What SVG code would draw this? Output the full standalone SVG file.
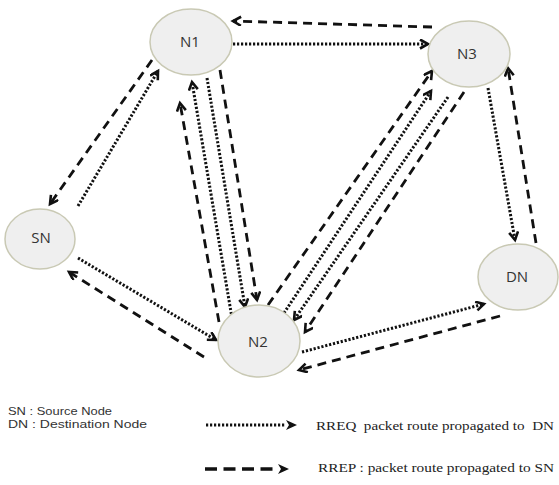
<svg xmlns="http://www.w3.org/2000/svg" width="559" height="485" viewBox="0 0 559 485">
<style>
.node{fill:#efefef;stroke:#c9c9b4;stroke-width:1.5}
.lbl{font-family:"Open Sans","Liberation Sans",sans-serif;font-size:15px;fill:#333;text-anchor:middle}
.dot{fill:none;stroke:#111;stroke-width:3;stroke-dasharray:2.2 1.8}
.dash{fill:none;stroke:#111;stroke-width:2.8;stroke-dasharray:9 6}
.leg{font-family:"Liberation Sans",sans-serif;font-size:11.5px;fill:#333}
.legs{font-family:"Liberation Serif",serif;font-size:12px;fill:#222;white-space:pre}
</style>
<defs>
<marker id="ah" markerUnits="userSpaceOnUse" markerWidth="12" markerHeight="12" refX="9" refY="5" orient="auto">
<path d="M1,0.5 L9,5 L1,9.5" fill="none" stroke="#111" stroke-width="2.6"/>
</marker>
<marker id="ahf" markerUnits="userSpaceOnUse" markerWidth="16" markerHeight="12" refX="0" refY="5" orient="auto">
<path d="M0,0 L11,5 L0,10 L3,5 Z" fill="#111"/>
</marker>
</defs>
<g id="connectors">
<!-- SN - N1 -->
<line class="dash" x1="152" y1="60" x2="50" y2="204" marker-end="url(#ah)"/>
<line class="dot" x1="78" y1="206" x2="158" y2="71" marker-end="url(#ah)"/>
<!-- N1 - N3 -->
<line class="dash" x1="432" y1="27" x2="233" y2="21" marker-end="url(#ah)"/>
<line class="dot" x1="233" y1="44" x2="428" y2="44" marker-end="url(#ah)"/>
<!-- N1 - N2 -->
<line class="dash" x1="219" y1="322" x2="180" y2="103" marker-end="url(#ah)"/>
<line class="dot" x1="232" y1="318" x2="192" y2="82" marker-end="url(#ah)"/>
<line class="dot" x1="207" y1="78" x2="245" y2="307" marker-end="url(#ah)"/>
<line class="dash" x1="220" y1="70" x2="257" y2="300" marker-end="url(#ah)"/>
<!-- N2 - N3 -->
<line class="dash" x1="268" y1="305" x2="432" y2="71" marker-end="url(#ah)"/>
<line class="dot" x1="284" y1="313" x2="431" y2="91" marker-end="url(#ah)"/>
<line class="dot" x1="448" y1="97" x2="294" y2="320" marker-end="url(#ah)"/>
<line class="dash" x1="464" y1="92" x2="305" y2="332" marker-end="url(#ah)"/>
<!-- N3 - DN -->
<line class="dot" x1="488" y1="88" x2="515" y2="240" marker-end="url(#ah)"/>
<line class="dash" x1="536" y1="243" x2="508" y2="68" marker-end="url(#ah)"/>
<!-- N2 - DN -->
<line class="dot" x1="302" y1="352" x2="484" y2="304" marker-end="url(#ah)"/>
<line class="dash" x1="500" y1="316" x2="299" y2="370" marker-end="url(#ah)"/>
<!-- SN - N2 -->
<line class="dot" x1="78" y1="258" x2="216" y2="340" marker-end="url(#ah)"/>
<line class="dash" x1="204" y1="357" x2="69" y2="272" marker-end="url(#ah)"/>
</g>
<g id="N1"><ellipse class="node" cx="191" cy="42" rx="41" ry="33"/><text class="lbl" x="190" y="47">N1</text></g>
<g id="N3"><ellipse class="node" cx="469" cy="54" rx="41" ry="33"/><text class="lbl" x="467" y="59">N3</text></g>
<g id="SN"><ellipse class="node" cx="40" cy="239" rx="35" ry="30"/><text class="lbl" x="41" y="243">SN</text></g>
<g id="DN"><ellipse class="node" cx="518" cy="277" rx="40" ry="33"/><text class="lbl" x="517" y="282">DN</text></g>
<g id="N2"><ellipse class="node" cx="259" cy="341" rx="41" ry="36"/><text class="lbl" x="258" y="347">N2</text></g>
<g id="legend">
<text class="leg" x="8" y="415" textLength="104" lengthAdjust="spacingAndGlyphs">SN : Source Node</text>
<text class="leg" x="8" y="428" textLength="139" lengthAdjust="spacingAndGlyphs">DN : Destination Node</text>
<line class="dot" x1="206" y1="425" x2="286" y2="425" marker-end="url(#ahf)"/>
<line x1="205" y1="469" x2="278" y2="469" stroke="#111" stroke-width="3.5" stroke-dasharray="12 6.5" marker-end="url(#ahf)"/>
<text class="legs" x="316" y="430" textLength="238" lengthAdjust="spacingAndGlyphs">RREQ  packet route propagated to  DN</text>
<text class="legs" x="318" y="472" textLength="236" lengthAdjust="spacingAndGlyphs">RREP : packet route propagated to SN</text>
</g>
</svg>
